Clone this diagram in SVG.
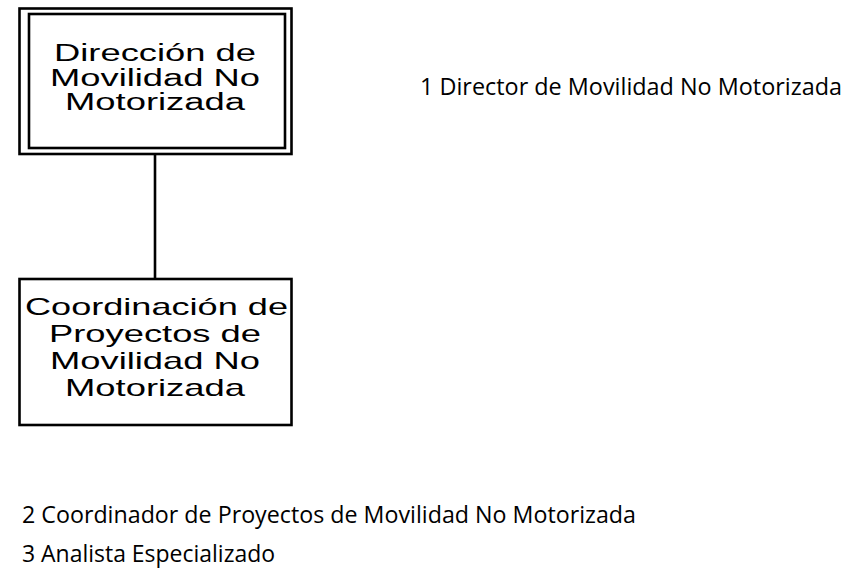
<svg xmlns="http://www.w3.org/2000/svg" width="847" height="574" viewBox="0 0 847 574">
<style>
.box{fill:#fff;stroke:#000;stroke-width:2.6}
.conn{stroke:#000;stroke-width:2.6;fill:none}
.nt{font-family:"Liberation Sans",Arial,sans-serif;font-size:24px;fill:#000}
.nt1{font-family:"Liberation Sans",Arial,sans-serif;font-size:23px;fill:#000}
.lt{font-family:"Open Sans","Noto Sans",sans-serif;font-size:23px;fill:#000}
</style>
<rect width="847" height="574" fill="#fff"/>
<g id="connectors">
<line class="conn" x1="155" y1="154" x2="155" y2="279"/>
</g>
<g id="node1">
<rect class="box" x="19.5" y="8.5" width="272" height="145.5"/>
<rect class="box" x="29" y="14" width="256" height="134"/>
<text class="nt1" x="54" y="61" textLength="202" lengthAdjust="spacingAndGlyphs">Dirección de</text>
<text class="nt1" x="50" y="85.5" textLength="210" lengthAdjust="spacingAndGlyphs">Movilidad No</text>
<text class="nt1" x="65" y="110" textLength="180" lengthAdjust="spacingAndGlyphs">Motorizada</text>
</g>
<g id="node2">
<rect class="box" x="19.5" y="279" width="272" height="146"/>
<text class="nt" x="25" y="315" textLength="263" lengthAdjust="spacingAndGlyphs">Coordinación de</text>
<text class="nt" x="49" y="342" textLength="212" lengthAdjust="spacingAndGlyphs">Proyectos de</text>
<text class="nt" x="50" y="369" textLength="210" lengthAdjust="spacingAndGlyphs">Movilidad No</text>
<text class="nt" x="65" y="396" textLength="180" lengthAdjust="spacingAndGlyphs">Motorizada</text>
</g>
<g id="legend">
<text class="lt" x="420" y="94.5" textLength="422" lengthAdjust="spacingAndGlyphs">1 Director de Movilidad No Motorizada</text>
<text class="lt" x="22" y="523" textLength="614" lengthAdjust="spacingAndGlyphs">2 Coordinador de Proyectos de Movilidad No Motorizada</text>
<text class="lt" x="22" y="562" textLength="253" lengthAdjust="spacingAndGlyphs">3 Analista Especializado</text>
</g>
</svg>
